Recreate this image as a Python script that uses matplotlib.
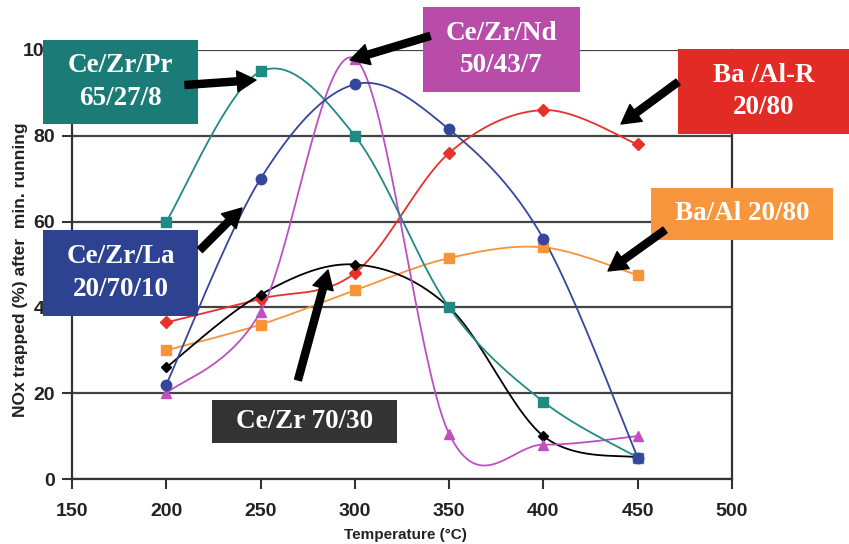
import numpy as np
import matplotlib
matplotlib.use("Agg")
import matplotlib.pyplot as plt
from matplotlib.patches import Rectangle, FancyArrowPatch, ArrowStyle

# ---------------- data ----------------
temps = [200, 250, 300, 350, 400, 450]
ce_zr_pr = [60, 95, 80, 40, 18, 5]
ce_zr_la = [22, 70, 92, 81.5, 56, 5]
ce_zr_nd = [20, 39, 98, 10.5, 8, 10]
ba_al_r = [36.5, 42, 48, 76, 86, 78]
ba_al = [30, 36, 44, 51.5, 54, 47.5]
ce_zr = [26, 43, 50, 40, 10, 5]

x_ticks = [150, 200, 250, 300, 350, 400, 450, 500]
y_ticks = [0, 20, 40, 60, 80, 100]

W, H = 849, 544
fig = plt.figure(figsize=(W / 100, H / 100), dpi=100)
fig.patch.set_facecolor("white")

def fx(x):
    return x / W

def fy(y):
    return 1 - y / H

ax = fig.add_axes([fx(72), fy(479), (732 - 72) / W, (479 - 50) / H])


def smooth(xs, ys, n=40):
    """Excel-like smoothed line (Catmull-Rom Bezier)."""
    P = np.column_stack([xs, ys]).astype(float)
    ext = np.vstack([P[0], P, P[-1]])
    out = []
    t = np.linspace(0, 1, n)[:, None]
    for i in range(len(P) - 1):
        p0, p1, p2, p3 = ext[i], ext[i + 1], ext[i + 2], ext[i + 3]
        b1 = p1 + (p2 - p0) / 6
        b2 = p2 - (p3 - p1) / 6
        seg = ((1 - t) ** 3) * p1 + 3 * ((1 - t) ** 2) * t * b1 + 3 * (1 - t) * t ** 2 * b2 + t ** 3 * p2
        out.append(seg if i == 0 else seg[1:])
    out = np.vstack(out)
    return out[:, 0], out[:, 1]


series = [
    (ba_al, "#f7943a", "s", 7),
    (ba_al_r, "#e8312a", "D", 6),
    (ce_zr, "#000000", "D", 5.5),
    (ce_zr_nd, "#c04fc0", "^", 7.5),
    (ce_zr_pr, "#208a85", "s", 7),
    (ce_zr_la, "#34479c", "o", 7.5),
]
for ys, col, mk, ms in series:
    sx, sy = smooth(temps, ys)
    ax.plot(sx, sy, color=col, lw=1.3, zorder=3)
    ax.plot(temps, ys, ls="none", marker=mk, color=col, ms=ms, zorder=4,
            markeredgecolor=col)

ax.set_xlim(150, 500)
ax.set_ylim(0, 100)
ax.set_xticks(x_ticks)
ax.set_yticks(y_ticks)
ax.set_xticklabels([str(v) for v in x_ticks], fontsize=14, fontweight="bold",
                   family="Liberation Sans", color="#222222")
ax.set_yticklabels([str(v) for v in y_ticks], fontsize=14, fontweight="bold",
                   family="Liberation Sans", color="#222222")
ax.tick_params(axis="both", direction="out", length=7, width=1.5, color="#333333")
ax.tick_params(axis="x", pad=10)
ax.tick_params(axis="y", pad=5)
for s in ["left", "bottom", "right"]:
    ax.spines[s].set_color("#333333")
    ax.spines[s].set_linewidth(1.6)
ax.spines["top"].set_visible(False)
ax.yaxis.grid(True, color="#444444", lw=1.6)
ax.set_axisbelow(True)

fig.text(fx(405), fy(535), "Temperature (°C)", ha="center", va="center",
         fontsize=11, fontweight="bold", family="Liberation Sans", color="#222222")
fig.text(fx(21), fy(270), "NOx trapped (%) after  min. running", ha="center", va="center",
         rotation=90, fontsize=12.5, fontweight="bold", family="Liberation Sans",
         color="#222222")

# ---------------- annotation boxes ----------------
boxes = [
    ("Ce/Zr/Pr\n65/27/8", "#1b7b77", 43, 40, 198, 124),
    ("Ce/Zr/La\n20/70/10", "#2e4292", 43, 230, 198, 316),
    ("Ce/Zr/Nd\n50/43/7", "#b84ca8", 423, 7, 580, 92),
    ("Ba /Al-R\n20/80", "#e32b26", 678, 49, 849, 134),
    ("Ba/Al 20/80", "#f7963c", 651, 188, 833, 240),
    ("Ce/Zr 70/30", "#333333", 212, 400, 397, 443),
]
for txt, col, x0, y0, x1, y1 in boxes:
    r = Rectangle((fx(x0), fy(y1)), (x1 - x0) / W, (y1 - y0) / H,
                  transform=fig.transFigure, facecolor=col, edgecolor="none", zorder=5)
    fig.add_artist(r)
    fig.text(fx((x0 + x1) / 2), fy((y0 + y1) / 2), txt, ha="center", va="center",
             color="white", fontsize=19.5, fontweight="bold", family="Liberation Serif",
             linespacing=1.42, zorder=6)

arrows = [
    ((185, 85), (256, 80)),
    ((430, 36), (350, 60)),
    ((200, 250), (242, 208)),
    ((298, 380), (328, 270)),
    ((678, 82), (621, 124)),
    ((665, 230), (608, 271)),
]
style = ArrowStyle.Simple(head_length=0.9, head_width=1.0, tail_width=0.34)
for (tx, ty), (hx, hy) in arrows:
    a = FancyArrowPatch((fx(tx), fy(ty)), (fx(hx), fy(hy)), transform=fig.transFigure,
                        arrowstyle=style, mutation_scale=15, color="black",
                        shrinkA=0, shrinkB=0, zorder=7)
    fig.add_artist(a)

fig.savefig("out.png", dpi=100)
